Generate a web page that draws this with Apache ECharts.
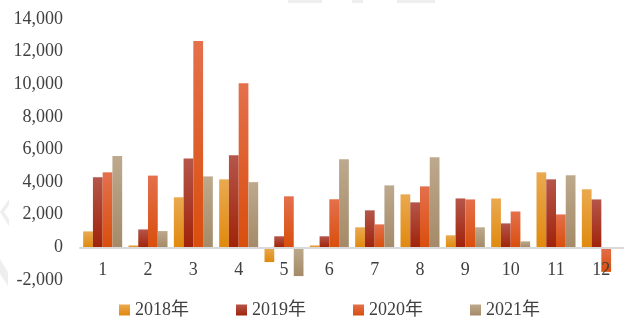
<!DOCTYPE html>
<html>
<head>
<meta charset="utf-8">
<script src="https://cdn.jsdelivr.net/npm/echarts@6/dist/echarts.min.js"></script>
<style>
  html, body { margin: 0; padding: 0; background: #fff; }
  #chart { width: 624px; height: 320px; }
</style>
</head>
<body>
<div id="chart"></div>
<script>
// Monthly values by year
const months = ['1', '2', '3', '4', '5', '6', '7', '8', '9', '10', '11', '12'];
const years = ['2018年', '2019年', '2020年', '2021年'];
const v2018 = [980, 120, 3070, 4170, -900, 120, 1230, 3250, 740, 3000, 4600, 3560];
const v2019 = [4300, 1100, 5450, 5650, 680, 680, 2270, 2760, 3000, 1470, 4170, 2940];
const v2020 = [4600, 4400, 12650, 10060, 3130, 2950, 1410, 3740, 2940, 2200, 2020, -1500];
const v2021 = [5600, 1000, 4350, 4000, -1760, 5400, 3800, 5520, 1230, 370, 4420, null];
const yTicks = { min: -2000, max: 14000, step: 2000 };

const seriesValues = [v2018, v2019, v2020, v2021];
// top / bottom shades of each year's bars
const shades = [
  ['#EAA950', '#E08A0E'],
  ['#B5564A', '#A0230A'],
  ['#E4704C', '#D94E0C'],
  ['#BDA98D', '#A48A68']
];

const grad = (c) => new echarts.graphic.LinearGradient(0, 0, 0, 1, [
  { offset: 0, color: c[0] },
  { offset: 1, color: c[1] }
]);

const fontFam = '"Liberation Serif", "Times New Roman", "Noto Sans CJK SC", serif';

// faint background marks along the edges
const faint = { fill: '#EEEEEE' };
const backdrop = [
  { type: 'polygon', silent: true, z: -1, shape: { points: [[9, 199], [0, 212], [9, 226], [9, 219], [4, 212], [9, 205]] }, style: faint },
  { type: 'polygon', silent: true, z: -1, shape: { points: [[0, 259], [8, 272], [8, 286], [0, 274]] }, style: faint },
  { type: 'rect', silent: true, z: -1, shape: { x: 288, y: 0, width: 34, height: 3 }, style: faint },
  { type: 'rect', silent: true, z: -1, shape: { x: 352, y: 0, width: 11, height: 3 }, style: faint },
  { type: 'rect', silent: true, z: -1, shape: { x: 397, y: 0, width: 38, height: 3 }, style: faint }
];

const chart = echarts.init(document.getElementById('chart'), null, { renderer: 'canvas' });
chart.setOption({
  animation: false,
  backgroundColor: '#ffffff',
  graphic: backdrop,
  grid: { left: 80, right: 0, top: 19, bottom: 40, containLabel: false },
  legend: {
    data: years,
    left: 119,
    top: 301,
    padding: 0,
    itemWidth: 11,
    itemHeight: 11,
    itemGap: 47,
    icon: 'rect',
    textStyle: { fontFamily: fontFam, fontSize: 18, color: '#404040' }
  },
  xAxis: {
    type: 'category',
    data: months,
    z: 5,
    axisLine: { show: true, onZero: true, lineStyle: { color: '#D9D9D9', width: 2 } },
    axisTick: { show: false },
    axisLabel: { fontFamily: fontFam, fontSize: 18, color: '#404040', margin: -19 }
  },
  yAxis: {
    type: 'value',
    min: yTicks.min,
    max: yTicks.max,
    interval: yTicks.step,
    axisLine: { show: false },
    axisTick: { show: false },
    splitLine: { show: false },
    axisLabel: {
      fontFamily: fontFam, fontSize: 18, color: '#404040', margin: 17,
      formatter: (v) => (v < 0 ? '-' : '') + Math.abs(v).toString().replace(/\B(?=(\d{3})+(?!\d))/g, ',')
    }
  },
  series: years.map((name, i) => ({
    name,
    type: 'bar',
    data: seriesValues[i],
    barGap: '0%',
    barCategoryGap: '14%',
    itemStyle: { color: grad(shades[i]) }
  }))
});
</script>
</body>
</html>
